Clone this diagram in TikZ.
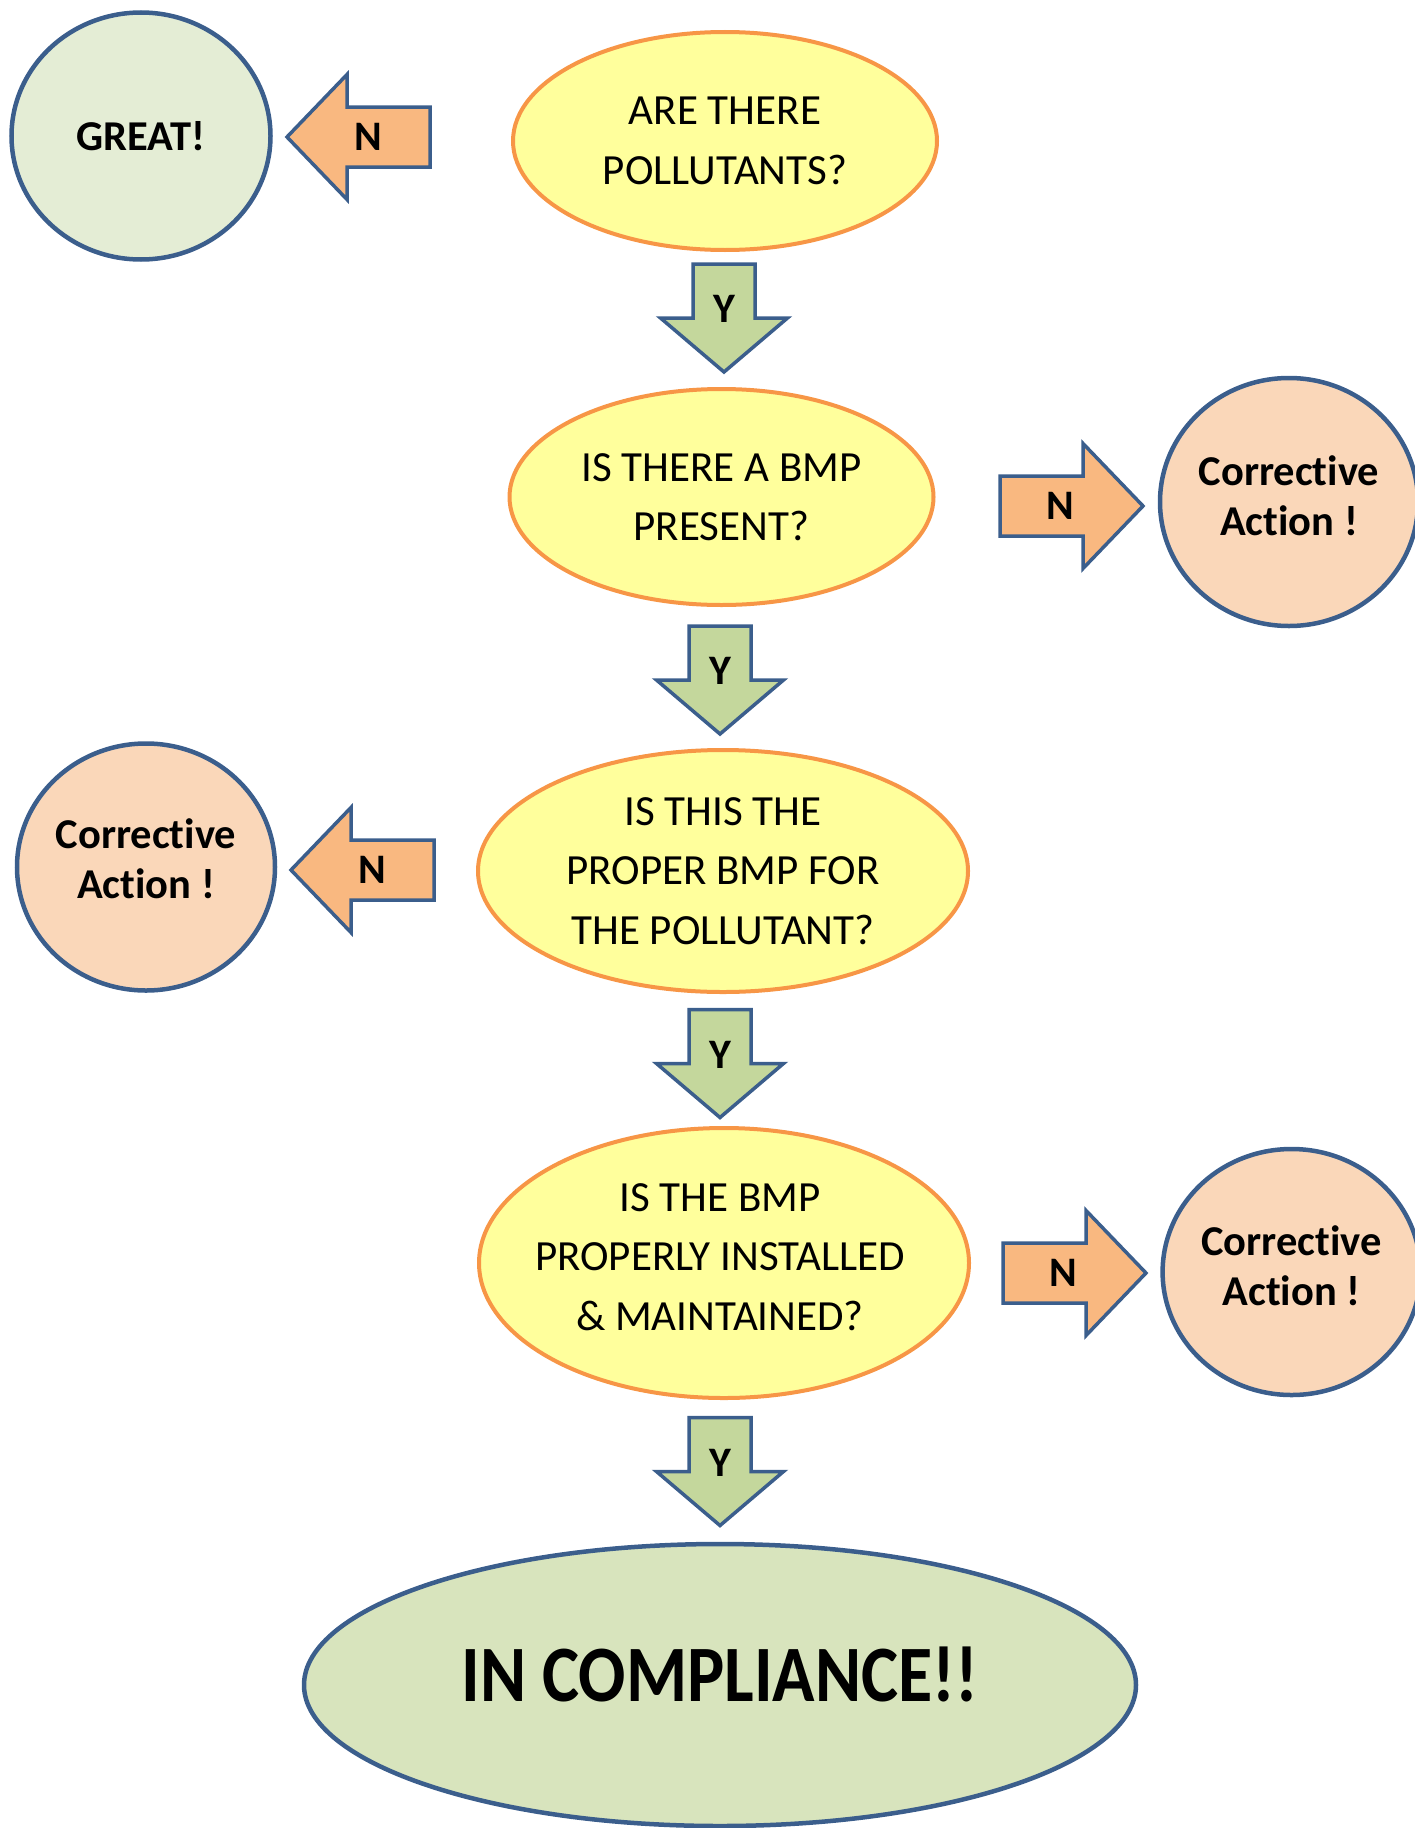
\documentclass[tikz,border=0pt]{standalone}
\usepackage{fontspec}
\setmainfont{Carlito}[Ligatures=NoCommon]
\usetikzlibrary{shapes.geometric}
\definecolor{qfill}{HTML}{FFFF9C}
\definecolor{qborder}{HTML}{F79646}
\definecolor{bborder}{HTML}{3B5E8C}
\definecolor{greatfill}{HTML}{E4EDD5}
\definecolor{cafill}{HTML}{FAD7B9}
\definecolor{nfill}{HTML}{F9B880}
\definecolor{yfill}{HTML}{C4D79C}
\definecolor{finfill}{HTML}{D8E4BD}
\newcommand\qfont{\fontsize{43}{59.5}\selectfont}
\newcommand\cfont{\fontsize{42.5}{50}\selectfont\bfseries}
\tikzset{
  question/.style={ellipse, draw=qborder, fill=qfill, line width=4pt, inner sep=0pt, align=center, font=\qfont},
  outcome/.style={ellipse, draw=bborder, line width=4.5pt, inner sep=0pt},
  otext/.style={align=center, font=\cfont, inner sep=0pt, yshift=6pt},
  blockarrow/.style={draw=bborder, line width=3.5pt, line join=miter},
  lbl/.style={font=\fontsize{42}{50}\selectfont\bfseries, inner sep=0pt},
  pics/yarrow/.style={code={
    \draw[blockarrow, fill=yfill] (-31,0)--(31,0)--(31,54)--(63.5,54)--(0,108)--(-63.5,54)--(-31,54)--cycle;
    \node[lbl] (-t) at (0,45) {Y};}},
  pics/larrow/.style={code={
    \draw[blockarrow, fill=nfill] (0,0)--(60,-62.5)--(60,-30)--(143,-30)--(143,30)--(60,30)--(60,62.5)--cycle;
    \node[lbl] (-t) at (81,0) {N};}},
  pics/rarrow/.style={code={
    \draw[blockarrow, fill=nfill] (0,0)--(-60,-62.5)--(-60,-30)--(-143,-30)--(-143,30)--(-60,30)--(-60,62.5)--cycle;
    \node[lbl] (-t) at (-83,0) {N};}},
}
\begin{document}
\begin{tikzpicture}[x=1pt,y=-1pt]
\useasboundingbox (0,0) rectangle (1414,1828);
% questions
\node[question, minimum width=424pt, minimum height=218pt] (q1) at (725,141) {ARE THERE\\POLLUTANTS?};
\node[question, minimum width=424pt, minimum height=216pt] (q2) at (721.5,497) {IS THERE A BMP\\PRESENT?};
\node[question, minimum width=490pt, minimum height=242pt] (q3) at (723,871) {IS THIS THE\\PROPER BMP FOR\\THE POLLUTANT?};
\node[question, minimum width=490pt, minimum height=270pt] (q4) at (724,1263) {};
\node[font=\qfont, align=center] (q4t) at (q4.center) [yshift=6pt, xshift=-4pt] {IS THE BMP\\PROPERLY INSTALLED\\\& MAINTAINED?};
% outcomes
\node[outcome, fill=greatfill, minimum width=259pt, minimum height=247pt] (c1) at (141,136) {};
\node[otext] (c1t) at (c1.center) [yshift=-6pt] {GREAT!};
\node[outcome, fill=cafill, minimum width=258pt, minimum height=248pt] (c2) at (1289,502) {};
\node[otext] (c2t) at (c2.center) {Corrective\\Action !};
\node[outcome, fill=cafill, minimum width=258pt, minimum height=247pt] (c3) at (146,867) {};
\node[otext] (c3t) at (c3.center) [yshift=2pt] {Corrective\\Action !};
\node[outcome, fill=cafill, minimum width=258pt, minimum height=246pt] (c4) at (1291.6,1272) {};
\node[otext] (c4t) at (c4.center) {Corrective\\Action !};
\node[outcome, fill=finfill, minimum width=832pt, minimum height=282pt] (fin) at (720,1685) {};
\node[font=\fontsize{80}{90}\selectfont\bfseries] (fint) at (fin.center) [yshift=11pt] {\scalebox{0.875}[1]{IN COMPLIANCE!!}};
% block arrows
\pic (y1) at (724,264) {yarrow};
\pic (y2) at (720,626) {yarrow};
\pic (y3) at (720,1009.5) {yarrow};
\pic (y4) at (720,1417.5) {yarrow};
\pic (n1) at (287,137) {larrow};
\pic (n2) at (1143,506) {rarrow};
\pic (n3) at (291,870) {larrow};
\pic (n4) at (1146,1273) {rarrow};
\end{tikzpicture}
\end{document}
